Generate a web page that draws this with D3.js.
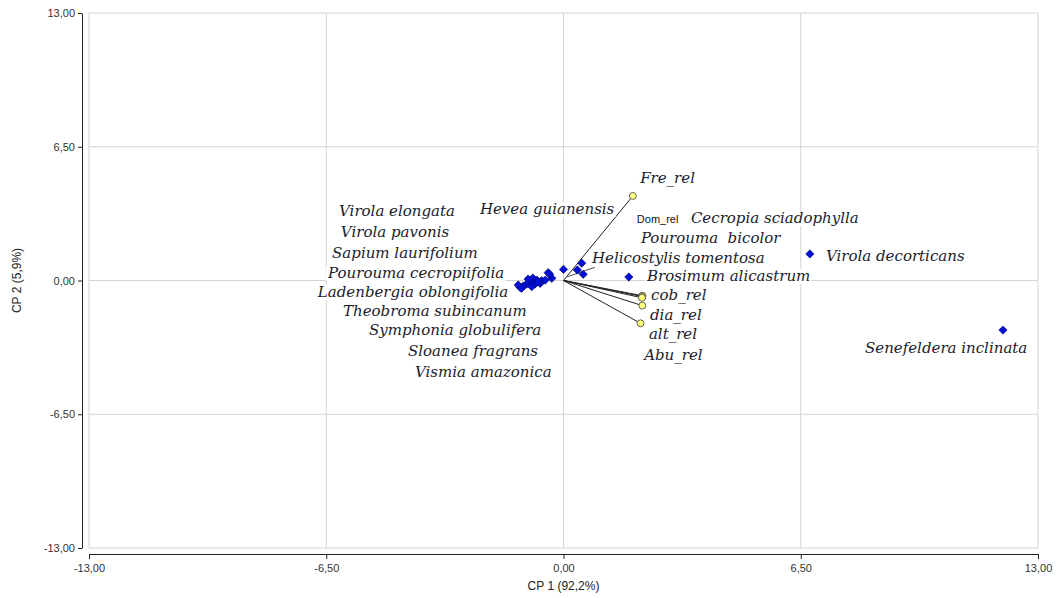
<!DOCTYPE html>
<html>
<head>
<meta charset="utf-8">
<script src="https://cdn.jsdelivr.net/npm/d3@7"></script>
<style>
  body { margin: 0; background: #fff; }
  svg { display: block; }
  .tick text { font-family: Arial, "Liberation Sans", sans-serif; font-size: 11px; fill: #333; }
  .sp { font-family: "DejaVu Serif", serif; font-style: italic; font-size: 15px; fill: #1c1c2c; }
  .small { font-family: Arial, "Liberation Sans", sans-serif; font-size: 11px; fill: #111; }
</style>
</head>
<body>
<div id="chart"></div>
<script>
// PCA biplot: scores (blue) + variable loadings (yellow)
const W = 1057, H = 598;

// axis setup
const axisMin = -13, axisMax = 13;
const tickValues = [-13, -6.5, 0, 6.5, 13];
const xTitle = 'CP 1 (92,2%)';
const yTitle = 'CP 2 (5,9%)';

// species scores
const scoreX = [12.04, 6.75, 1.79, 0.00, 0.50, 0.38, 0.54, -0.42, -0.32, -0.84, -0.92, -0.73, -0.64, -0.78, -1.01, -1.10, -1.19, -1.24, -0.87, -0.60, -1.15, -0.97, -0.70, -0.50, -0.38];
const scoreY = [-2.41, 1.29, 0.17, 0.54, 0.84, 0.51, 0.30, 0.38, 0.11, 0.12, -0.06, 0.02, -0.14, -0.17, -0.17, -0.27, -0.33, -0.22, -0.30, -0.01, -0.38, 0.07, -0.07, 0.02, 0.30];

// variable loadings
const loadNames = ['Fre_rel', 'Abu_rel', 'Dom_rel', 'cob_rel', 'dia_rel', 'alt_rel'];
const loadX = [1.90, 2.16, 2.16, 2.15, 2.16, 2.11];
const loadY = [4.11, -0.74, -0.78, -0.84, -1.22, -2.08];

// labels (placed by hand in the original, given in axis units)
const labelText = ['Virola elongata', 'Virola pavonis', 'Sapium laurifolium', 'Pourouma cecropiifolia',
  'Ladenbergia oblongifolia', 'Theobroma subincanum', 'Symphonia globulifera', 'Sloanea fragrans',
  'Vismia amazonica', 'Hevea guianensis', 'Cecropia sciadophylla', 'Pourouma  bicolor',
  'Helicostylis tomentosa', 'Brosimum alicastrum', 'Virola decorticans', 'Senefeldera inclinata',
  'Fre_rel', 'cob_rel', 'dia_rel', 'alt_rel', 'Abu_rel'];
const labelX = [-6.15, -6.10, -6.34, -6.45, -6.73, -6.04, -5.33, -4.26, -4.07, -2.29, 3.49, 2.12,
  0.78, 2.29, 7.19, 8.26, 2.10, 2.40, 2.37, 2.34, 2.21];
const labelY = [3.13, 2.11, 1.09, 0.12, -0.80, -1.72, -2.65, -3.67, -4.69, 3.23, 2.79, 1.82,
  0.85, -0.02, 0.95, -3.52, 4.74, -0.95, -1.92, -2.84, -3.86];
const smallLabel = { text: 'Dom_rel', x: 2.01, y: 2.79 };

const margin = { left: 89, right: 19, top: 13, bottom: 50 };

const svg = d3.select('#chart').append('svg')
  .attr('width', W).attr('height', H);

const x = d3.scaleLinear().domain([axisMin, axisMax]).range([margin.left, W - margin.right]);
const y = d3.scaleLinear().domain([axisMin, axisMax]).range([H - margin.bottom, margin.top]);

const fmt = d => d3.format('.2f')(d).replace('.', ',').replace('−', '-');

// grid
const grid = svg.append('g');
grid.selectAll('.gx').data(tickValues).enter().append('line')
  .attr('x1', d => x(d)).attr('x2', d => x(d))
  .attr('y1', y(axisMin)).attr('y2', y(axisMax))
  .attr('stroke', '#d4d4d4').attr('stroke-width', 1);
grid.selectAll('.gy').data(tickValues).enter().append('line')
  .attr('y1', d => y(d)).attr('y2', d => y(d))
  .attr('x1', x(axisMin)).attr('x2', x(axisMax))
  .attr('stroke', '#d4d4d4').attr('stroke-width', 1);

// axes (offset from plot box)
const yAxis = svg.append('g')
  .attr('transform', `translate(${margin.left - 7},0)`)
  .call(d3.axisLeft(y).tickValues(tickValues).tickFormat(fmt).tickSize(4).tickSizeOuter(0));
const xAxis = svg.append('g')
  .attr('transform', `translate(0,${H - margin.bottom + 6})`)
  .call(d3.axisBottom(x).tickValues(tickValues).tickFormat(fmt).tickSize(5).tickSizeOuter(0));
[xAxis, yAxis].forEach(a => {
  a.select('.domain').attr('stroke', '#222');
  a.selectAll('.tick line').attr('stroke', '#222');
});
xAxis.selectAll('.tick text').attr('dy', '0.9em');

svg.append('text')
  .attr('x', x(0)).attr('y', 590)
  .attr('text-anchor', 'middle')
  .attr('font-family', 'Arial, "Liberation Sans", sans-serif').attr('font-size', 12).attr('fill', '#222')
  .text(xTitle);
svg.append('text')
  .attr('transform', `translate(21,${y(0)}) rotate(-90)`)
  .attr('text-anchor', 'middle')
  .attr('font-family', 'Arial, "Liberation Sans", sans-serif').attr('font-size', 12).attr('fill', '#222')
  .text(yTitle);

// loading vectors
const loads = loadNames.map((n, i) => ({ name: n, x: loadX[i], y: loadY[i] }));
svg.append('g').selectAll('line').data(loads).enter().append('line')
  .attr('x1', x(0)).attr('y1', y(0))
  .attr('x2', d => x(d.x)).attr('y2', d => y(d.y))
  .attr('stroke', '#222').attr('stroke-width', 1);

// leader for Helicostylis label
svg.append('line')
  .attr('x1', x(0.1)).attr('y1', y(0.18))
  .attr('x2', x(0.86)).attr('y2', y(0.64))
  .attr('stroke', '#222').attr('stroke-width', 0.8);

// scores
const scores = scoreX.map((v, i) => ({ x: v, y: scoreY[i] }));
svg.append('g').selectAll('path').data(scores).enter().append('path')
  .attr('d', d3.symbol().type(d3.symbolDiamond2).size(44))
  .attr('transform', d => `translate(${x(d.x)},${y(d.y)})`)
  .attr('fill', '#0010d8').attr('stroke', '#000060').attr('stroke-width', 0.6);

svg.append('g').selectAll('circle').data(loads).enter().append('circle')
  .attr('cx', d => x(d.x)).attr('cy', d => y(d.y)).attr('r', 3.5)
  .attr('fill', '#ffff80').attr('stroke', '#444').attr('stroke-width', 0.8);

// labels with white background
const labels = labelText.map((t, i) => ({ t, x: labelX[i], y: labelY[i] }));
const lg = svg.append('g');
const lab = lg.selectAll('g').data(labels).enter().append('g');
lab.append('rect');
lab.append('text').attr('class', 'sp')
  .attr('x', d => x(d.x)).attr('y', d => y(d.y))
  .text(d => d.t)
  .style('white-space', 'pre');
lab.each(function () {
  const t = d3.select(this).select('text').node().getBBox();
  d3.select(this).select('rect')
    .attr('x', t.x - 1).attr('y', t.y + 2).attr('width', t.width + 2).attr('height', t.height - 3)
    .attr('fill', '#fff');
});

const sg = svg.append('g');
sg.append('rect');
const st = sg.append('text').attr('class', 'small')
  .attr('x', x(smallLabel.x)).attr('y', y(smallLabel.y)).text(smallLabel.text);
const sb = st.node().getBBox();
sg.select('rect').attr('x', sb.x - 1).attr('y', sb.y).attr('width', sb.width + 2).attr('height', sb.height).attr('fill', '#fff');
</script>
</body>
</html>
